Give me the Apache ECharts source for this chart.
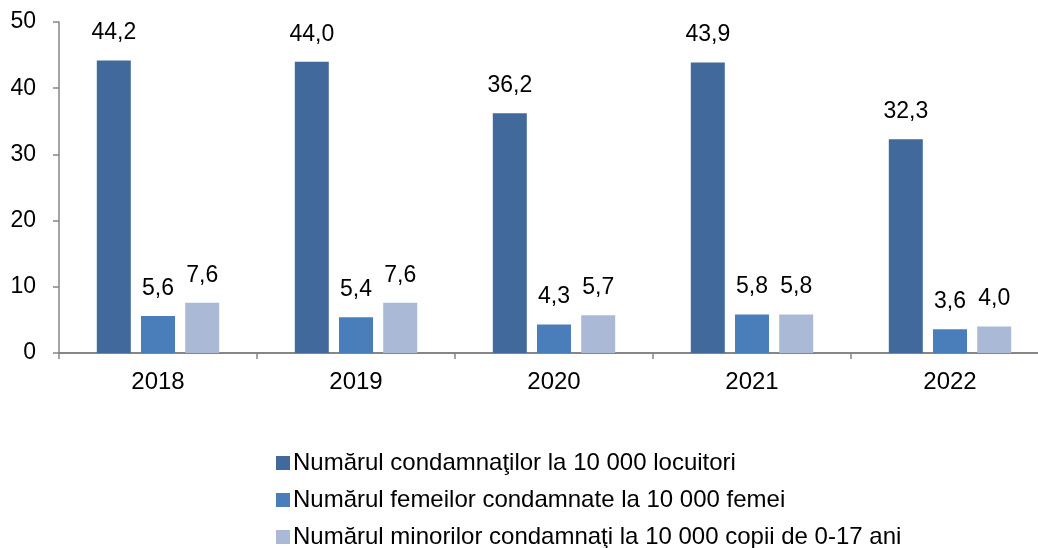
<!DOCTYPE html>
<html>
<head>
<meta charset="utf-8">
<script src="https://cdn.jsdelivr.net/npm/echarts@6/dist/echarts.min.js"></script>
<style>
html, body { margin: 0; padding: 0; width: 100%; height: 100%; background: #fff; }
#chart { width: 1038px; height: 548px; }
</style>
</head>
<body>
<div id="chart"></div>
<script>
var years = ['2018', '2019', '2020', '2021', '2022']
var condamnati = [44.2, 44.0, 36.2, 43.9, 32.3]
var femei = [5.6, 5.4, 4.3, 5.8, 3.6]
var minori = [7.6, 7.6, 5.7, 5.8, 4.0]
var yTicks = [0, 10, 20, 30, 40, 50]
var seriesNames = [
  'Numărul condamnaţilor la 10 000 locuitori',
  'Numărul femeilor condamnate la 10 000 femei',
  'Numărul minorilor condamnaţi la 10 000 copii de 0-17 ani'
]
var colors = ['#41699b', '#4a7ebb', '#a9b9d6']

var font = 'Liberation Sans, Arial, sans-serif'
var chart = echarts.init(document.getElementById('chart'))

function bar (name, data, color) {
  return {
    name: name,
    type: 'bar',
    data: data,
    barWidth: 34,
    barGap: '30%',
    itemStyle: { color: color },
    label: {
      show: true,
      position: 'top',
      distance: 16,
      color: '#000',
      fontFamily: font,
      fontSize: 23,
      formatter: function (p) { return p.value.toFixed(1).replace('.', ',') }
    }
  }
}

chart.setOption({
  animation: false,
  color: colors,
  grid: { left: 59, top: 22, width: 990, height: 331, containLabel: false, outerBoundsMode: 'none' },
  legend: {
    orient: 'vertical',
    left: 271,
    top: 446,
    height: 110,
    itemWidth: 14,
    itemHeight: 14,
    itemGap: 13,
    icon: 'rect',
    textStyle: { fontFamily: font, fontSize: 24, color: '#000', padding: [0, 0, 0, -2] },
    data: seriesNames
  },
  xAxis: {
    type: 'category',
    data: years,
    axisLine: { lineStyle: { color: '#868686', width: 2 } },
    axisTick: { show: true, length: 6, lineStyle: { color: '#868686', width: 1.5 } },
    axisLabel: { color: '#000', fontFamily: font, fontSize: 24, margin: 17 }
  },
  yAxis: {
    type: 'value',
    min: yTicks[0],
    max: yTicks[yTicks.length - 1],
    interval: 10,
    splitLine: { show: false },
    axisLine: { show: true, lineStyle: { color: '#868686', width: 1.5 } },
    axisTick: { show: true, length: 6, lineStyle: { color: '#868686', width: 1.5 } },
    axisLabel: { color: '#000', fontFamily: font, fontSize: 23, margin: 23, align: 'right' }
  },
  series: [
    bar(seriesNames[0], condamnati, colors[0]),
    bar(seriesNames[1], femei, colors[1]),
    bar(seriesNames[2], minori, colors[2])
  ]
})
</script>
</body>
</html>
